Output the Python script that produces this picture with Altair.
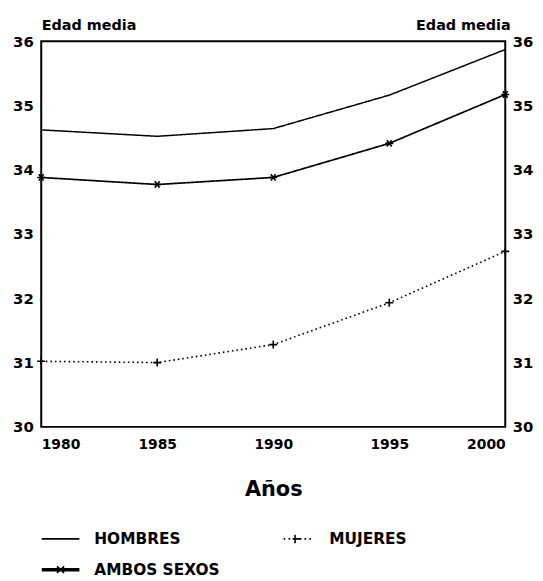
import altair as alt
import pandas as pd

years = [1980, 1985, 1990, 1995, 2000]
hombres = [34.62, 34.52, 34.64, 35.16, 35.87]
mujeres = [31.02, 31.00, 31.28, 31.93, 32.73]
ambos = [33.88, 33.77, 33.88, 34.41, 35.17]
series_names = ["HOMBRES", "MUJERES", "AMBOS SEXOS"]
legend_order = ["HOMBRES", "AMBOS SEXOS", "MUJERES"]  # legend fills column by column
y_ticks = [30, 31, 32, 33, 34, 35, 36]

rows = []
for name, vals in zip(series_names, [hombres, mujeres, ambos]):
    for yr, v in zip(years, vals):
        rows.append({"year": yr, "value": v, "serie": name})
df = pd.DataFrame(rows)

FONT = "DejaVu Sans"
dash_range = [[1, 0], [1.6, 3], [1, 0]]
width_range = [1.5, 1.7, 4.0]

# ---- legend sample shapes: symbol of diameter 19px, 1 unit = 9.5px, centre at 9.5px
U = 9.5
def seg(p0, p1, dy=0.0):
    return f"M{(p0 - U) / U:.3f},{dy:.3f}L{(p1 - U) / U:.3f},{dy:.3f}"

leg_h = seg(0, 38)
leg_a = (seg(0, 38, -0.1) + seg(0, 38, 0) + seg(0, 38, 0.1)
         + "M0.62,-0.34L1.38,0.34M0.62,0.34L1.38,-0.34")
leg_m = (seg(7, 8.6) + seg(12, 13.6) + seg(16, 25) + seg(28, 29.6) + seg(33, 34.6)
         + "M0.947,-0.45L0.947,0.45")

legend = alt.Legend(
    title=None, orient="none", legendX=-0.5, legendY=491.5, columns=2,
    symbolSize=361, symbolStrokeColor="black", symbolFillColor="transparent",
    symbolOpacity=1, symbolStrokeWidth=1.6,
    labelFont=FONT, labelFontWeight="bold", labelFontSize=15.5, labelColor="black",
    labelOffset=33, columnPadding=56, rowPadding=12, labelLimit=300,
)

x_enc = alt.X("year:Q", scale=alt.Scale(domain=[1980, 2000], nice=False, zero=False),
              axis=alt.Axis(values=years, format="d", title="Años", ticks=False, domain=False,
                            grid=False, labelPadding=11, labelFontSize=14, titleFontSize=21,
                            titlePadding=27))

yscale = alt.Scale(domain=[30, 36], nice=False, zero=False)

y_left = alt.Y("value:Q", scale=yscale,
               axis=alt.Axis(values=y_ticks, orient="left", title="Edad media", titleAngle=0,
                             titleAlign="left", titleX=0, titleY=-12, titleBaseline="alphabetic",
                             ticks=False, domain=False, grid=False, labelPadding=8))

y_right = alt.Y("value:Q", scale=yscale,
                axis=alt.Axis(values=y_ticks, orient="right", title="Edad media", titleAngle=0,
                              titleAlign="right", titleX=5, titleY=-12, titleBaseline="alphabetic",
                              ticks=False, domain=False, grid=False, labelPadding=7))

y_none = alt.Y("value:Q", scale=yscale, axis=None)

lines = alt.Chart(df).mark_line(color="black").encode(
    x=x_enc,
    y=y_left,
    strokeDash=alt.StrokeDash("serie:N", scale=alt.Scale(domain=series_names, range=dash_range),
                              legend=None),
    strokeWidth=alt.StrokeWidth("serie:N", scale=alt.Scale(domain=series_names, range=width_range),
                                legend=None),
    detail="serie:N",
)

plus_path = "M-1,0L1,0M0,-1L0,1"
star_path = "M-1,0L1,0M-0.6,-0.8L0.6,0.8M-0.6,0.8L0.6,-0.8"

points = alt.Chart(df).transform_filter(alt.datum.serie != "HOMBRES").mark_point(
    filled=False, stroke="black", strokeWidth=1.6, opacity=1
).encode(
    x=x_enc,
    y=y_none,
    shape=alt.Shape("serie:N", scale=alt.Scale(domain=["MUJERES", "AMBOS SEXOS"],
                    range=[plus_path, star_path]), legend=None),
    size=alt.value(64),
)

# layer that only carries the legend (no rows drawn)
legend_layer = alt.Chart(df).transform_filter("false").mark_point(
    filled=False, stroke="black", opacity=1
).encode(
    x=x_enc,
    y=y_none,
    shape=alt.Shape("serie:N", scale=alt.Scale(domain=legend_order, range=[leg_h, leg_a, leg_m]),
                    legend=legend),
)

right = alt.Chart(df).mark_line(strokeOpacity=0).encode(
    x=x_enc, y=y_right, detail="serie:N"
)

chart = alt.layer(lines, points, legend_layer, right).resolve_scale(
    y="independent", shape="independent"
).properties(
    width=468, height=389,
    autosize=alt.AutoSizeParams(type="none"),
    padding={"left": 33.5, "top": 31, "right": 30, "bottom": 153},
).configure_view(stroke="black", strokeWidth=2).configure_axis(
    labelFont=FONT, labelFontWeight="bold", labelFontSize=15, labelColor="black",
    titleFont=FONT, titleFontWeight="bold", titleFontSize=14.5, titleColor="black",
)

chart.save("out.html", embed_options={"renderer": "svg", "actions": False})
